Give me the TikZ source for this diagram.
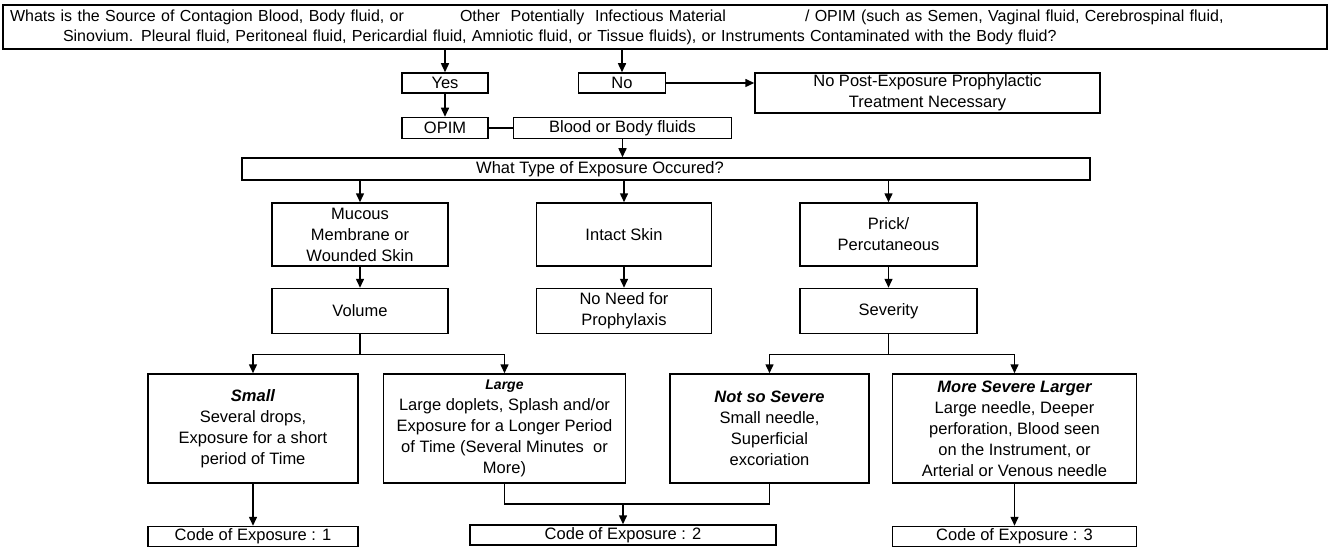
\documentclass[tikz,border=0pt]{standalone}
\usepackage{fontspec}
\setmainfont{Liberation Sans}
\usetikzlibrary{positioning, calc, arrows.meta}

\begin{document}
\begin{tikzpicture}[x=1pt, y=-1pt, node distance = 21pt]
 \tikzstyle{B} = [draw, rectangle, line width=1.5pt, inner sep=1pt, align=center, font=\fontsize{16.5}{21}\selectfont]
 \tikzstyle{T} = [B, font=\fontsize{16}{20}\selectfont, align=left, text width=1310pt]
 \tikzstyle{L} = [line width=1.5pt, -{Triangle[length=9pt, width=8pt]}]
 \tikzstyle{W} = [line width=1.5pt]

 \useasboundingbox (0,0) rectangle (1332,548);

 % question and first answers
 \node [T, minimum width=1324pt, minimum height=44pt] (top) at (665,27)
  {\makebox[450pt][l]{Whats is the Source of Contagion Blood, Body fluid, or}\makebox[345pt][l]{Other\ \ Potentially\ \ Infectious Material}/ OPIM (such as Semen, Vaginal fluid, Cerebrospinal fluid,\\
   \hspace*{53pt}Sinovium. Pleural fluid, Peritoneal fluid, Pericardial fluid, Amniotic fluid, or Tissue fluids), or Instruments Contaminated with the Body fluid?};
 \node [B, minimum width=86pt, minimum height=20pt] (yes) at (445,83) {Yes};
 \node [B, minimum width=87pt, minimum height=20pt, right = 89pt of yes] (no) {No};
 \node [B, minimum width=345pt, minimum height=40pt, right = 88pt of no.north east, anchor=north west] (nopost) {No Post-Exposure Prophylactic\\Treatment Necessary};
 \node [B, minimum width=86pt, minimum height=21pt, below = 23pt of yes] (opim) {OPIM};
 \node [B, minimum width=218pt, minimum height=21pt, right = 24pt of opim] (blood) {Blood or Body fluids};

 % type of exposure
 \node [B, minimum width=848pt, minimum height=22pt] (type) at (666,169) {};
 \node [font=\fontsize{16.5}{21}\selectfont] (typetxt) at (600,169) {What Type of Exposure Occured?};
 \node [B, minimum width=176pt, minimum height=63pt] (muc) at (360,234.5) {Mucous\\Membrane or\\Wounded Skin};
 \node [B, minimum width=175pt, minimum height=63pt, right = 87pt of muc] (intact) {Intact Skin};
 \node [B, minimum width=177pt, minimum height=63pt, right = 87pt of intact] (prick) {Prick/\\Percutaneous};
 \node [B, minimum width=176pt, minimum height=45pt, below = of muc] (vol) {Volume};
 \node [B, minimum width=175pt, minimum height=45pt, below = of intact] (noneed) {No Need for\\Prophylaxis};
 \node [B, minimum width=177pt, minimum height=45pt, below = of prick] (sev) {Severity};

 % volume and severity classes
 \node [B, minimum width=210pt, minimum height=109pt] (small) at (253,428.5) {{\bfseries\itshape Small}\\Several drops,\\Exposure for a short\\period of Time};
 \node [B, minimum width=242pt, minimum height=109pt, right = 24pt of small] (large) {{\bfseries\itshape\fontsize{14}{20}\selectfont Large}\\Large doplets, Splash and/or\\Exposure for a Longer Period\\of Time (Several Minutes\ \ or\\More)};
 \node [B, minimum width=199pt, minimum height=109pt, right = 43pt of large] (notso) {{\bfseries\itshape Not so Severe}\\Small needle,\\Superficial\\excoriation};
 \node [B, minimum width=244pt, minimum height=109pt, right = 22pt of notso] (more) {{\bfseries\itshape More Severe Larger}\\Large needle, Deeper\\perforation, Blood seen\\on the Instrument, or\\Arterial or Venous needle};

 % codes
 \node [B, minimum width=210pt, minimum height=20pt, below = 42pt of small] (code1) {Code of Exposure : 1};
 \node [B, minimum width=306pt, minimum height=20pt] (code2) at (623,535) {Code of Exposure : 2};
 \node [B, minimum width=244pt, minimum height=20pt, below = 42pt of more] (code3) {Code of Exposure : 3};

 % connectors
 \draw [L] (yes |- top.south) -- (yes.north);
 \draw [L] (no |- top.south) -- (no.north);
 \draw [L] (no.east) -- (no.east -| nopost.west);
 \draw [L] (yes.south) -- (opim.north);
 \draw [W] (opim.east) -- (blood.west);
 \draw [L] (blood.south) -- (blood.south |- type.north);
 \foreach \n in {muc, intact, prick}
  \draw [L] (\n |- type.south) -- (\n.north);
 \foreach \a/\b in {muc/vol, intact/noneed, prick/sev}
  \draw [L] (\a.south) -- (\b.north);
 \draw [L] (vol.south) -- ++(0,20) -| (small.north);
 \draw [L] (vol.south) -- ++(0,20) -| (large.north);
 \draw [L] (sev.south) -- ++(0,20) -| (notso.north);
 \draw [L] (sev.south) -- ++(0,20) -| (more.north);
 \draw [L] (small.south) -- (code1.north);
 \coordinate (mg) at ($(large.south)+(0,20)$);
 \draw [W] (large.south) -- (mg) -| (notso.south);
 \draw [L] (mg -| code2.north) -- (code2.north);
 \draw [L] (more.south) -- (code3.north);
\end{tikzpicture}
\end{document}
